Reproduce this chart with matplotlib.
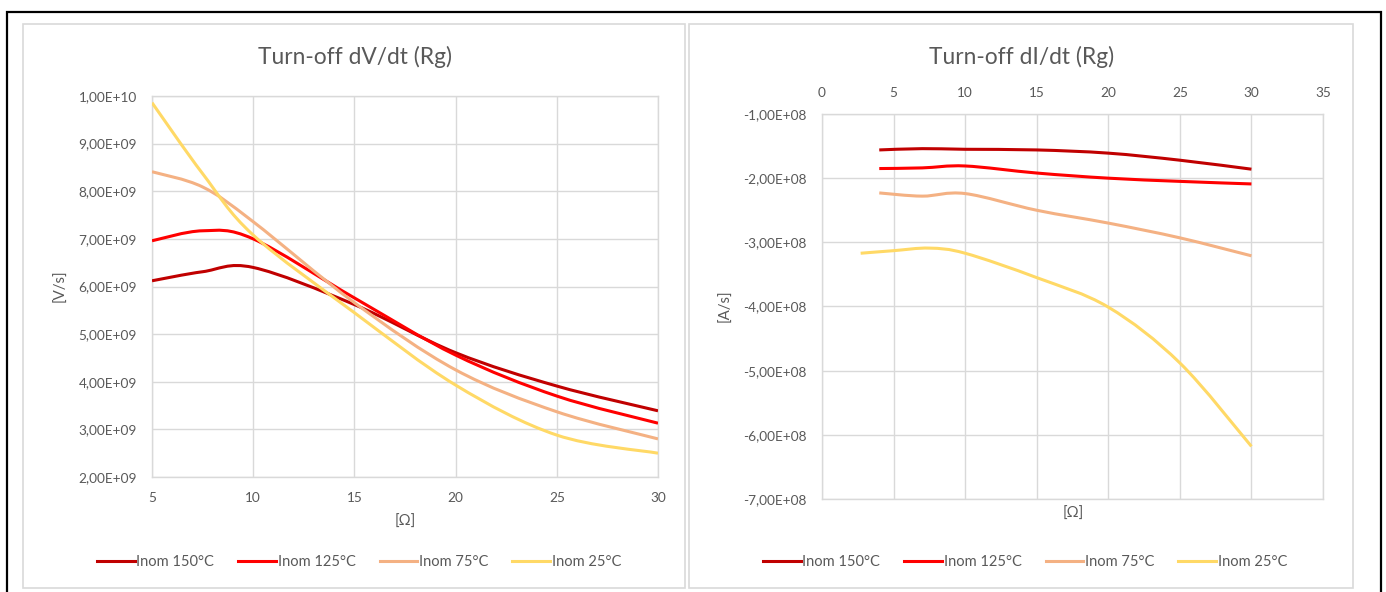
import matplotlib
matplotlib.use("Agg")
import matplotlib.pyplot as plt
import numpy as np
from matplotlib.path import Path
from matplotlib.patches import PathPatch, Rectangle
from matplotlib.lines import Line2D
from matplotlib.ticker import FuncFormatter, MultipleLocator

plt.rcParams['font.family'] = ['Lato', 'DejaVu Sans']

# ---- Turn-off dV/dt versus gate resistance ----
rg_dv = [5, 7.5, 10, 15, 20, 25, 30]
dv_150 = [6.12e9, 6.31e9, 6.40e9, 5.62e9, 4.61e9, 3.91e9, 3.39e9]
dv_125 = [6.96e9, 7.17e9, 7.00e9, 5.76e9, 4.56e9, 3.70e9, 3.13e9]
dv_75 = [8.41e9, 8.09e9, 7.36e9, 5.66e9, 4.25e9, 3.37e9, 2.80e9]
dv_25 = [9.86e9, 8.37e9, 7.08e9, 5.45e9, 3.93e9, 2.88e9, 2.50e9]

# ---- Turn-off dI/dt versus gate resistance ----
rg_di = [4, 7, 10, 15, 20, 25, 30]
rg_di_25 = [2.7, 5, 7.5, 10, 15, 20, 25, 30]
di_150 = [-1.56e8, -1.54e8, -1.55e8, -1.56e8, -1.61e8, -1.72e8, -1.86e8]
di_125 = [-1.85e8, -1.84e8, -1.81e8, -1.92e8, -2.00e8, -2.05e8, -2.09e8]
di_75 = [-2.23e8, -2.28e8, -2.24e8, -2.50e8, -2.70e8, -2.93e8, -3.21e8]
di_25 = [-3.17e8, -3.13e8, -3.09e8, -3.17e8, -3.55e8, -4.01e8, -4.88e8, -6.18e8]

series_names = ["Inom 150°C", "Inom 125°C", "Inom 75°C", "Inom 25°C"]
series_colors = ["#C00000", "#FF0000", "#F4B183", "#FFD966"]

TEXT = "#595959"
GRID = "#d9d9d9"
W, H = 1386, 592


def smooth_path(x, y):
    """Catmull-Rom style Bezier path through the points (spreadsheet 'smoothed line')."""
    p = np.column_stack([x, y]).astype(float)
    n = len(p)
    verts = [p[0]]
    codes = [Path.MOVETO]
    for i in range(n - 1):
        p0 = p[i - 1] if i > 0 else p[i]
        p1 = p[i]
        p2 = p[i + 1]
        p3 = p[i + 2] if i + 2 < n else p[i + 1]
        c1 = p1 + (p2 - p0) / 6.0
        c2 = p2 - (p3 - p1) / 6.0
        verts += [c1, c2, p2]
        codes += [Path.CURVE4] * 3
    return Path(verts, codes)


def draw_series(ax, x, y, color):
    ax.add_patch(PathPatch(smooth_path(x, y), fill=False, edgecolor=color,
                           lw=2.2, capstyle='butt', joinstyle='round', zorder=3))


def sci_comma(v, pos):
    return f"{v:.2E}".replace('.', ',')


def fx(px):
    return px / W


def fy(py):
    return 1 - py / H


fig = plt.figure(figsize=(W / 100, H / 100), dpi=100)

# outer frame and the two chart panels
fig.add_artist(Rectangle((fx(7), -0.05), fx(1381) - fx(7), fy(12) + 0.05,
                         transform=fig.transFigure, fill=False, ec='black', lw=1.6))
fig.add_artist(Rectangle((fx(23), fy(588)), fx(685) - fx(23), fy(24) - fy(588),
                         transform=fig.transFigure, fill=False, ec=GRID, lw=1.2))
fig.add_artist(Rectangle((fx(689), fy(588)), fx(1353) - fx(689), fy(24) - fy(588),
                         transform=fig.transFigure, fill=False, ec=GRID, lw=1.2))


def style_axes(ax):
    ax.grid(True, color=GRID, lw=1.0, zorder=0)
    ax.set_axisbelow(True)
    for s in ax.spines.values():
        s.set_color(GRID)
        s.set_linewidth(1.0)
    ax.tick_params(length=0, labelcolor=TEXT, labelsize=9.8, pad=11)
    ax.yaxis.set_major_formatter(FuncFormatter(sci_comma))


# left chart
ax1 = fig.add_axes([fx(152), fy(477), fx(658) - fx(152), fy(96) - fy(477)])
style_axes(ax1)
ax1.set_xlim(5, 30)
ax1.set_ylim(2e9, 1e10)
ax1.xaxis.set_major_locator(MultipleLocator(5))
ax1.yaxis.set_major_locator(MultipleLocator(1e9))
for yv, c in zip([dv_150, dv_125, dv_75, dv_25], series_colors):
    draw_series(ax1, rg_dv, yv, c)

# right chart
ax2 = fig.add_axes([fx(822), fy(499), fx(1323) - fx(822), fy(114) - fy(499)])
style_axes(ax2)
ax2.set_xlim(0, 35)
ax2.set_ylim(-7e8, -1e8)
ax2.xaxis.set_major_locator(MultipleLocator(5))
ax2.yaxis.set_major_locator(MultipleLocator(1e8))
ax2.xaxis.tick_top()
for xv, yv, c in zip([rg_di, rg_di, rg_di, rg_di_25],
                     [di_150, di_125, di_75, di_25], series_colors):
    draw_series(ax2, xv, yv, c)

# titles and axis labels
fig.text(fx(355), fy(57), "Turn-off dV/dt (Rg)", ha='center', va='center',
         fontsize=16.4, color=TEXT)
fig.text(fx(1022), fy(57), "Turn-off dI/dt (Rg)", ha='center', va='center',
         fontsize=16.4, color=TEXT)
fig.text(fx(405), fy(522), "[Ω]", ha='center', va='center', fontsize=10.8, color=TEXT)
fig.text(fx(1073), fy(514), "[Ω]", ha='center', va='center', fontsize=10.8, color=TEXT)
fig.text(fx(60), fy(286), "[V/s]", ha='center', va='center', rotation=90,
         fontsize=10.8, color=TEXT)
fig.text(fx(725), fy(306), "[A/s]", ha='center', va='center', rotation=90,
         fontsize=10.8, color=TEXT)

# legends
handles = [Line2D([], [], color=c, lw=2.2) for c in series_colors]
for cx in (359, 1025):
    leg = fig.legend(handles, series_names, loc='center', ncol=4, frameon=False,
                     bbox_to_anchor=(fx(cx), fy(562)), fontsize=10.5,
                     handlelength=2.6, handletextpad=0.1, columnspacing=1.65,
                     borderpad=0, borderaxespad=0)
    for t in leg.get_texts():
        t.set_color(TEXT)

fig.savefig("out.png", dpi=100)
